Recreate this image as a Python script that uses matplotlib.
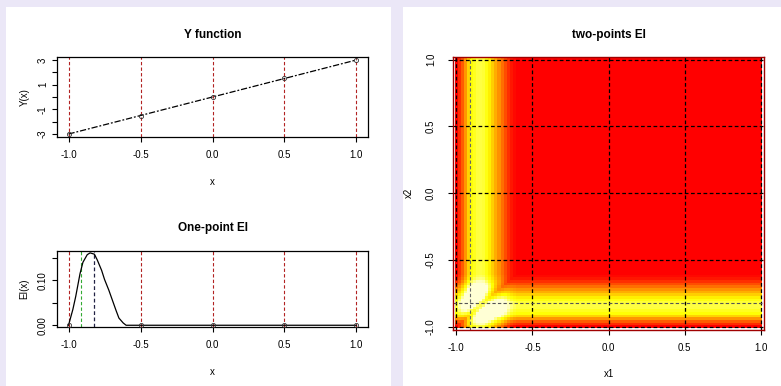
import numpy as np
import matplotlib.pyplot as plt
from matplotlib.colors import LinearSegmentedColormap, Normalize
from matplotlib.patches import Rectangle

plt.rcParams['font.family'] = ['Liberation Sans', 'DejaVu Sans']

# design points and response
design_x = [-1.0, -0.5, 0.0, 0.5, 1.0]
design_y = [-3.0, -1.5, 0.0, 1.5, 3.0]

# one-point expected improvement curve
ei_x = [-1.0, -0.97, -0.95, -0.92, -0.90, -0.87, -0.85, -0.82, -0.80,
        -0.77, -0.75, -0.72, -0.70, -0.67, -0.65, -0.62, -0.60, 1.0]
ei_vals = [0.0, 0.035, 0.064, 0.115, 0.140, 0.157, 0.161, 0.158, 0.145,
           0.122, 0.102, 0.078, 0.060, 0.033, 0.016, 0.005, 0.0, 0.0]

# best pair of points for the two-points EI
opt_pair = [-0.91, -0.82]

x_ticks = [-1.0, -0.5, 0.0, 0.5, 1.0]
x_ticklabels = ['-1.0', '-0.5', '0.0', '0.5', '1.0']

# R heat.colors(12)
heat12 = ['#FF0000', '#FF2000', '#FF4000', '#FF6000', '#FF8000', '#FF9F00',
          '#FFBF00', '#FFDF00', '#FFFF00', '#FFFF2A', '#FFFF80', '#FFFFD5']

W, H = 781, 386
fig = plt.figure(figsize=(W / 100, H / 100), dpi=100, facecolor='#ebe7f7')

# white panels behind the plots
fig.patches.append(Rectangle((6 / W, 0), 385 / W, 379 / H, transform=fig.transFigure,
                             facecolor='white', edgecolor='none', zorder=-10))
fig.patches.append(Rectangle((403 / W, 0), 378 / W, 379 / H, transform=fig.transFigure,
                             facecolor='white', edgecolor='none', zorder=-10))

TICK = 7
TITLE = 8.5


def r_style(ax):
    ax.patch.set_alpha(0)
    for s in ax.spines.values():
        s.set_linewidth(0.9)
    ax.tick_params(direction='out', length=3.5, width=0.8, labelsize=TICK, pad=6)
    ax.tick_params(axis='y', pad=3)
    ax.set_xticks(x_ticks)
    ax.set_xticklabels(x_ticklabels)
    ax.set_xlim(-1.08, 1.08)


vline_kw = dict(color='#b22222', lw=0.8, ls=(0, (3, 2)), zorder=1)

# --- Y function
ax1 = fig.add_axes([57 / W, 1 - 137 / H, 311 / W, 80 / H])
r_style(ax1)
for xv in design_x:
    ax1.axvline(xv, **vline_kw)
ax1.plot(design_x, design_y, color='black', lw=0.9, ls=(0, (5, 1.5, 1.5, 1.5)), zorder=2)
ax1.plot(design_x, design_y, 'o', ms=3, mfc='none', mec='#333333', mew=0.6, zorder=3)
ax1.set_ylim(-3.24, 3.24)
ax1.set_yticks(range(-3, 4))
ax1.set_yticklabels(['-3', '', '-1', '', '1', '', '3'], rotation=90, va='center')
ax1.set_title('Y function', fontsize=TITLE, fontweight='bold', pad=14)
ax1.set_xlabel('x', fontsize=TICK, labelpad=12)
ax1.set_ylabel('Y(x)', fontsize=TICK, labelpad=6)

# --- One-point EI
ax2 = fig.add_axes([57 / W, 1 - 326.7 / H, 311 / W, 76 / H])
r_style(ax2)
for xv in design_x:
    ax2.axvline(xv, **vline_kw)
ax2.axvline(opt_pair[0], color='#33aa33', lw=0.8, ls=(0, (3, 2)), zorder=1)
ax2.axvline(opt_pair[1], color='#222244', lw=0.9, ls=(0, (3, 2)), zorder=1)
ax2.plot(ei_x, ei_vals, color='black', lw=0.9, zorder=2)
ax2.plot(design_x, [0] * len(design_x), 'o', ms=3, mfc='none', mec='#333333', mew=0.6, zorder=3)
emax = max(ei_vals)
ax2.set_ylim(-0.02 * emax, emax * 1.03)
ax2.set_yticks([0.0, 0.05, 0.10, 0.15])
ax2.set_yticklabels(['0.00', '', '0.10', ''], rotation=90, va='center')
ax2.set_title('One-point EI', fontsize=TITLE, fontweight='bold', pad=14)
ax2.set_xlabel('x', fontsize=TICK, labelpad=12)
ax2.set_ylabel('EI(x)', fontsize=TICK, labelpad=6)

# --- two-points EI surface, built from the one-point EI profile
grid = np.linspace(-1, 1, 101)
e = np.interp(grid, ei_x, ei_vals)
g1, g2 = np.meshgrid(grid, grid)
e1, e2 = np.meshgrid(e, e)
rho = np.exp(-((g1 - g2) / 0.08) ** 2)
qei = e1 + e2 - rho * np.minimum(e1, e2)

heat = LinearSegmentedColormap.from_list('heat', heat12)
ax3 = fig.add_axes([453.3 / W, 1 - 329.5 / H, 310.7 / W, 272.5 / H])
ax3.patch.set_alpha(0)
ax3.pcolormesh(grid, grid, qei, cmap=heat,
               norm=Normalize(0, 0.19, clip=True), shading='nearest', zorder=0)
for v in design_x:
    ax3.axvline(v, color='black', lw=0.9, ls=(0, (3, 2)), zorder=2)
    ax3.axhline(v, color='black', lw=0.9, ls=(0, (3, 2)), zorder=2)
ax3.axvline(opt_pair[0], color='#666666', lw=0.8, ls=(0, (3, 2)), zorder=2)
ax3.axhline(opt_pair[1], color='#555555', lw=0.8, ls=(0, (3, 2)), zorder=2)
ax3.set_xlim(-1.02, 1.02)
ax3.set_ylim(-1.02, 1.02)
for s in ax3.spines.values():
    s.set_color('#a00000')
    s.set_linewidth(1.0)
ax3.tick_params(direction='out', length=3.5, width=0.8, labelsize=TICK, pad=6)
ax3.tick_params(axis='y', pad=9)
ax3.set_xticks(x_ticks)
ax3.set_xticklabels(x_ticklabels)
ax3.set_yticks(x_ticks)
ax3.set_yticklabels(x_ticklabels, rotation=90, va='center')
ax3.set_title('two-points EI', fontsize=TITLE, fontweight='bold', pad=14)
ax3.set_xlabel('x1', fontsize=TICK, labelpad=12)
ax3.set_ylabel('x2', fontsize=TICK, labelpad=9)

fig.savefig('out.png', dpi=100, facecolor=fig.get_facecolor())
